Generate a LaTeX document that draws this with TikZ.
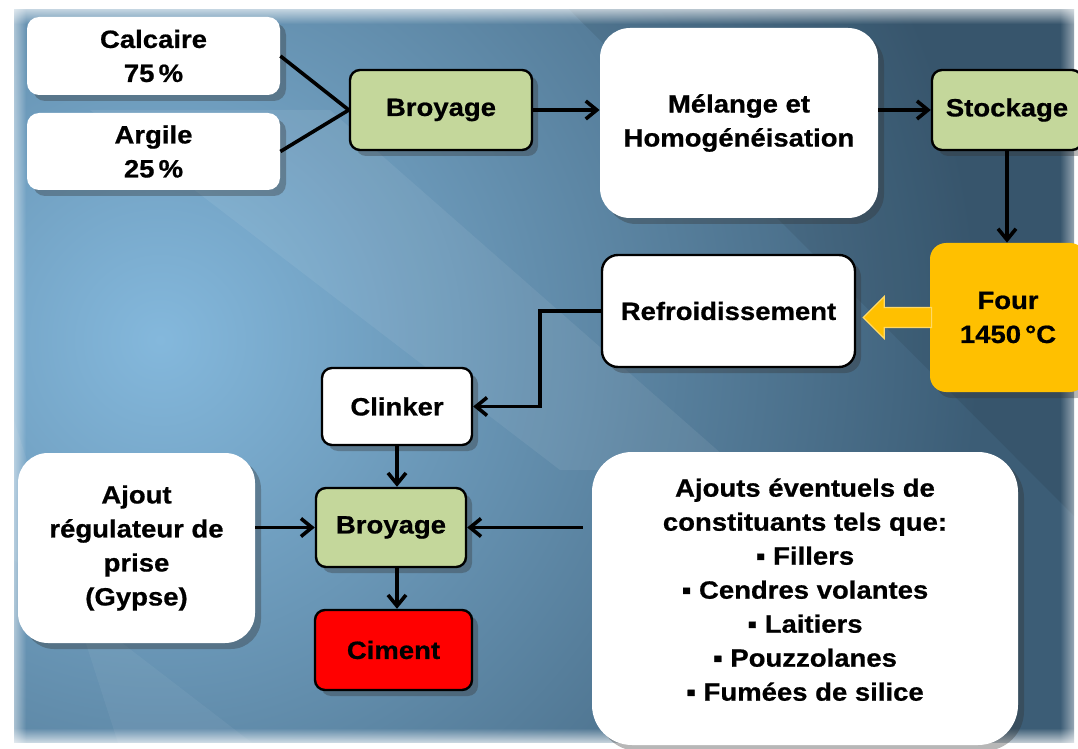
\documentclass[tikz,border=0pt]{standalone}
\usepackage{fontspec}
\setmainfont{Liberation Sans}[FakeStretch=1.1, BoldFeatures={FakeBold=0.7}]
\usetikzlibrary{arrows.meta,calc,shadows,fadings}
\definecolor{bgdark}{RGB}{60,93,118}
\definecolor{bglight}{RGB}{132,184,220}
\definecolor{boxgreen}{RGB}{196,215,155}
\definecolor{fourc}{RGB}{255,192,0}
\definecolor{cimred}{RGB}{255,0,0}
\begin{document}
\begin{tikzpicture}[x=0.5pt,y=-0.5pt,
 every node/.style={font=\fontsize{12.5}{17}\selectfont\bfseries, align=center, inner sep=0pt},
 softshadow/.style={drop shadow={opacity=0.35,shadow xshift=3pt,shadow yshift=-3pt,fill=black!80}},
 wbox/.style={fill=white, rounded corners=6pt, softshadow},
 bbox/.style={fill=white, draw=black, line width=1.2pt, rounded corners=5pt, softshadow},
 gbox/.style={fill=boxgreen, draw=black, line width=1.2pt, rounded corners=5pt, softshadow},
 link/.style={line width=1.8pt, draw=black},
 flow/.style={link, -{Straight Barb[length=5.5pt,width=9pt,line width=1.8pt]}},
]
\useasboundingbox (0,0) rectangle (1078,749);
% background
\fill[white] (0,0) rectangle (1078,749);
\begin{scope}
 \clip (14,10) rectangle (1074,742);
 \fill[bgdark] (0,0) rectangle (1078,749);
 \shade[inner color=bglight, outer color=bgdark] (160,340) circle (820);
 \fill[white,opacity=0.07] (90,110) -- (330,110) -- (740,470) -- (560,470) -- cycle;
 \fill[white,opacity=0.05] (14,420) -- (14,560) -- (260,749) -- (120,749) -- cycle;
 \fill[black,opacity=0.08] (560,0) -- (1078,0) -- (1078,520) -- cycle;
\end{scope}
\fill[white, path fading=south] (0,0) rectangle (1078,24);
\fill[white, path fading=east] (0,0) rectangle (26,749);
\fill[white, path fading=north] (0,728) rectangle (1078,749);
\fill[white, opacity=0.6, path fading=west] (1060,0) rectangle (1078,749);

% nodes
\node[wbox, minimum width=126.5pt, minimum height=39pt] (calc) at (153.5,56) {Calcaire\\75\,\%};
\node[wbox, minimum width=126.5pt, minimum height=38.5pt] (arg) at (153.5,151.5) {Argile\\25\,\%};
\node[gbox, minimum width=91pt, minimum height=40pt] (b1) at (441,110) {Broyage};
\node[wbox, rounded corners=15pt, minimum width=139pt, minimum height=95pt] (mel) at (739,123) {Mélange et\\Homogénéisation};
\node[gbox, minimum width=75pt, minimum height=40pt] (sto) at (1007,110) {Stockage};
\node[fill=fourc, rounded corners=8pt, minimum width=78pt, minimum height=74.5pt, softshadow] (four) at (1008,317.5) {Four\\1450\,°C};
\node[bbox, rounded corners=8pt, minimum width=126.5pt, minimum height=56pt] (ref) at (728.5,311) {Refroidissement};
\node[bbox, minimum width=75pt, minimum height=38.5pt] (clk) at (397,406.5) {Clinker};
\node[gbox, minimum width=75pt, minimum height=39.5pt] (b2) at (391,527.5) {Broyage};
\node[fill=cimred, draw=black, line width=1.2pt, rounded corners=5pt, softshadow, minimum width=78.5pt, minimum height=40pt] (cim) at (393.5,650) {Ciment};
\node[wbox, rounded corners=15pt, minimum width=118.5pt, minimum height=95pt] (ajout) at (136.5,548) {Ajout\\régulateur de\\prise\\(Gypse)};
\node[wbox, rounded corners=20pt, minimum width=213pt, minimum height=146.5pt] (ajts) at (805,598.5) {Ajouts éventuels de\\constituants tels que:\\▪ Fillers\\▪ Cendres volantes\\▪ Laitiers\\▪ Pouzzolanes\\▪ Fumées de silice\\[-8pt]\mbox{}};

% connectors
\draw[link] (calc.east) -- (b1.west);
\draw[link] (arg.east) -- (b1.west);
\draw[flow] (b1.east) -- (b1.east -| mel.west);
\draw[flow] (mel.east |- sto.west) -- (sto.west);
\draw[flow] (sto.south) -- (sto.south |- four.north);
\coordinate (tip) at ($(ref.east |- four.west)+(7,0)$);
\fill[fourc, draw=fourc!60!white, line width=0.6pt]
  ($(four.west)+(2,-10)$) -- ($(tip)+(21,-10)$) -- ($(tip)+(21,-21)$) -- (tip)
  -- ($(tip)+(21,21)$) -- ($(tip)+(21,10)$) -- ($(four.west)+(2,10)$) -- cycle;
\coordinate (bend) at (540,311);
\draw[flow] (ref.west) -- (bend) |- (clk.east);
\draw[flow] (clk.south) -- (clk.south |- b2.north);
\draw[flow] (b2.south -| clk.south) -- (cim.north -| clk.south);
\draw[flow] (ajout.east |- b2.west) -- (b2.west);
\draw[flow] ($(ajts.west |- b2.east)+(-9,0)$) -- (b2.east);
\end{tikzpicture}
\end{document}
